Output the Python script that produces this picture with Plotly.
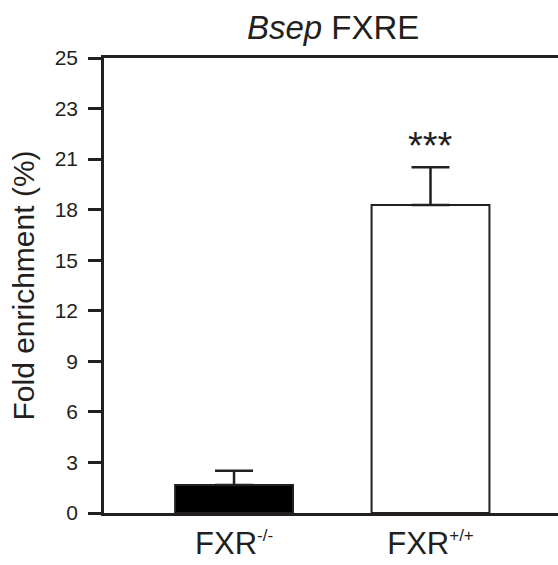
import plotly.graph_objects as go

categories = ["FXR<sup><span style='font-size:17px'>-/-</span></sup>",
              "FXR<sup><span style='font-size:17px'>+/+</span></sup>"]
values = [1.66, 18.28]
errors = [0.85, 2.24]
tick_vals = [0, 3, 6, 9, 12, 15, 18, 21, 24, 27]
tick_text = ["0", "3", "6", "9", "12", "15", "18", "21", "23", "25"]
significance = ["", "***"]

ink = "#231f20"
font = "Liberation Sans, Arial, sans-serif"

fig = go.Figure()
fig.add_trace(go.Bar(
    x=[0, 1], y=values,
    width=0.6,
    marker=dict(color=["#000000", "#ffffff"], line=dict(color=ink, width=2)),
    error_y=dict(type="data", array=errors, arrayminus=[0, 0], symmetric=False,
                 color=ink, thickness=2.5, width=19),
    showlegend=False,
))

for i, s in enumerate(significance):
    if s:
        fig.add_annotation(x=i, y=values[i] + errors[i], text=s, showarrow=False,
                           yanchor="bottom", yshift=-2,
                           font=dict(family=font, size=38, color=ink))

fig.update_layout(
    width=558, height=565,
    margin=dict(l=104, r=0, t=58, b=52),
    paper_bgcolor="white", plot_bgcolor="white",
    title=dict(text="<i>Bsep</i> FXRE", x=0.597, xanchor="center", y=0.952, yanchor="middle",
               font=dict(family=font, size=33, color=ink)),
    font=dict(family=font, color=ink),
)
fig.update_xaxes(
    range=[-0.662, 1.649], tickvals=[0, 1], ticktext=categories,
    showline=True, linecolor=ink, linewidth=2.5, mirror=True,
    ticks="", showgrid=False, zeroline=False, ticklabelstandoff=1,
    tickfont=dict(family=font, size=31, color=ink),
)
fig.update_yaxes(
    range=[0, 27], tickvals=tick_vals, ticktext=tick_text,
    showline=True, linecolor=ink, linewidth=2.5,
    ticks="outside", ticklen=13, tickwidth=2.5, tickcolor=ink,
    showgrid=False, zeroline=False, ticklabelstandoff=6,
    tickfont=dict(family=font, size=21, color=ink),
    title=dict(text="Fold enrichment (%)", font=dict(family=font, size=30, color=ink), standoff=12),
)

fig.write_html("out.html")
